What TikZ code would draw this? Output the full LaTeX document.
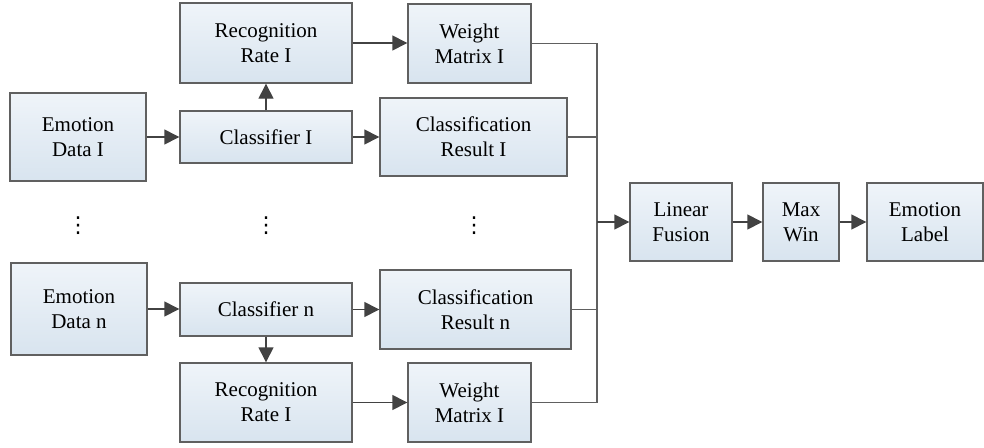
\documentclass[tikz,border=0pt]{standalone}
\usepackage{fontspec}
\setmainfont{Liberation Serif}
\newfontfamily\dotsfont{DejaVu Sans}
\usepackage{tikz}
\usetikzlibrary{arrows.meta, shadings, calc, positioning}
\definecolor{boxline}{HTML}{606060}
\definecolor{boxtop}{HTML}{EFF4F9}
\definecolor{boxbot}{HTML}{D8E4EF}
\definecolor{arrline}{HTML}{424242}

\begin{document}
\begin{tikzpicture}[x=1pt,y=-1pt,
    block/.style={draw=boxline, line width=1.4pt, top color=boxtop, bottom color=boxbot,
        inner sep=0pt, align=center, font=\fontsize{21}{25}\selectfont},
    arr/.style={draw=arrline, line width=1.4pt, -{Triangle[length=15pt,width=15pt]}},
    bus/.style={draw=boxline, line width=1.4pt},
    dotsnode/.style={font=\dotsfont\fontsize{22}{22}\selectfont, inner sep=0pt}]

        \useasboundingbox (0,0) rectangle (984,447);

        % Nhanh tren
        \node[block, minimum width=136pt, minimum height=88pt] (dataI) at (78,137) {Emotion\\Data I};
        \node[block, minimum width=172pt, minimum height=52pt] (clsI) at (266,137) {Classifier I};
        \node[block, minimum width=172pt, minimum height=80pt] (rateI) at (266,43) {Recognition\\Rate I};
        \node[block, minimum width=123pt, minimum height=79pt] (wI) at (469.5,43.5) {Weight\\Matrix I};
        \node[block, minimum width=187pt, minimum height=78pt] (resI) at (473.5,137) {Classification\\Result I};

        % Dau ba cham
        \node[dotsnode] (dotA) at (78,226) {⋮};
        \node[dotsnode] (dotB) at (266,226) {⋮};
        \node[dotsnode] (dotC) at (474,226) {⋮};

        % Nhanh duoi
        \node[block, minimum width=136pt, minimum height=92pt] (dataN) at (79,309) {Emotion\\Data n};
        \node[block, minimum width=172pt, minimum height=53pt] (clsN) at (266,309.5) {Classifier n};
        \node[block, minimum width=172pt, minimum height=79pt] (rateN) at (266,402.5) {Recognition\\Rate I};
        \node[block, minimum width=123pt, minimum height=79pt] (wN) at (469.5,402.5) {Weight\\Matrix I};
        \node[block, minimum width=191pt, minimum height=79pt] (resN) at (475.5,309.5) {Classification\\Result n};

        % Hop nhat
        \node[block, minimum width=102pt, minimum height=78pt] (fusion) at (681,222) {Linear\\Fusion};
        \node[block, minimum width=76pt, minimum height=78pt] (maxwin) at (801,222) {Max\\Win};
        \node[block, minimum width=116pt, minimum height=78pt] (label) at (925,222) {Emotion\\Label};

        \coordinate (join) at (597,222); % Diem gop

        % Mui ten nhanh tren
        \draw[arr] (dataI) -- (clsI);
        \draw[arr] (clsI) -- (rateI);
        \draw[arr] (clsI) -- (resI);
        \draw[arr] (rateI) -- (rateI -| wI.west);

        % Mui ten nhanh duoi
        \draw[arr] (dataN) -- (dataN -| clsN.west);
        \draw[arr] (clsN) -- (rateN);
        \draw[arr] (clsN) -- (clsN -| resN.west);
        \draw[arr] (rateN) -- (wN);

        % Duong gop
        \draw[bus] (wI.east) -| (join);
        \draw[bus] (wN.east) -| (join);
        \draw[bus] (resI.east) -- (resI.east -| join);
        \draw[bus] (resN.east) -- (resN.east -| join);
        \draw[arr] (join) -- (fusion);
        \draw[arr] (fusion) -- (maxwin);
        \draw[arr] (maxwin) -- (label);

        \end{tikzpicture}
\end{document}
